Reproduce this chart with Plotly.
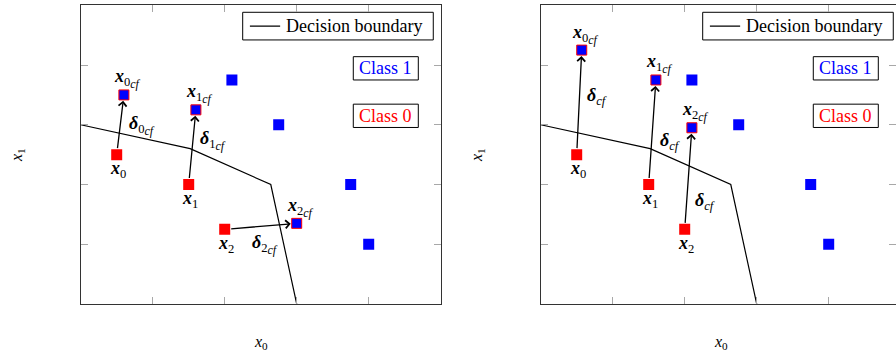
import plotly.graph_objects as go

# data
class1_x = [2.1, 2.75, 3.75, 4.0]
class1_y = [3.75, 3.0, 2.0, 1.0]

orig_x = [0.5, 1.5, 2.0]
orig_y = [2.5, 2.0, 1.25]
orig_labels = ["0", "1", "2"]

cf_left_x = [0.6, 1.6, 3.0]
cf_left_y = [3.5, 3.25, 1.35]
cf_right_x = [0.57, 1.6, 2.1]
cf_right_y = [4.25, 3.75, 2.95]

boundary_x = [0.0, 1.52, 2.64, 3.0]
boundary_y = [3.0, 2.6, 2.0, 0.0]

tick_vals = [1, 2, 3, 4]

W, H = 896, 352
RED = "#ff0000"
BLUE = "#0000ff"
FONT = "Liberation Serif"
CF = "<span style='font-size:12px'><i>cf</i></span>"


def px(x):
    return x / W


def py(y):
    return 1 - y / H


def x_lab(i, cf=False):
    if cf:
        return "<b><i>x</i></b><sub>%s<sub>%s</sub></sub>" % (i, CF)
    return "<b><i>x</i></b><sub>%s</sub>" % i


def d_lab(i=None):
    if i is None:
        return "<b><i>δ</i></b><sub><i>cf</i></sub>"
    return "<b><i>δ</i></b><sub>%s<sub>%s</sub></sub>" % (i, CF)


fig = go.Figure()
annotations = []
shapes = []

panels = [
    ("x", "y", cf_left_x, cf_left_y),
    ("x2", "y2", cf_right_x, cf_right_y),
]

# where the delta labels sit, per panel
delta_pos = {
    "x": [(0.847, 2.98), (1.84, 2.745), (2.56, 0.99)],
    "x2": [(0.78, 3.47), (1.80, 2.72), (2.28, 1.71)],
}

for xr, yr, cfx, cfy in panels:
    fig.add_trace(go.Scatter(
        x=boundary_x, y=boundary_y, mode="lines",
        line=dict(color="black", width=1.2),
        xaxis=xr, yaxis=yr, showlegend=False, hoverinfo="skip"))
    fig.add_trace(go.Scatter(
        x=class1_x, y=class1_y, mode="markers",
        marker=dict(symbol="square", size=11, color=BLUE, line=dict(width=0)),
        xaxis=xr, yaxis=yr, showlegend=False))
    fig.add_trace(go.Scatter(
        x=orig_x, y=orig_y, mode="markers",
        marker=dict(symbol="square", size=11, color=RED, line=dict(width=0)),
        xaxis=xr, yaxis=yr, showlegend=False))
    fig.add_trace(go.Scatter(
        x=cfx, y=cfy, mode="markers",
        marker=dict(symbol="square", size=10, color=BLUE, line=dict(color=RED, width=1)),
        xaxis=xr, yaxis=yr, showlegend=False))

    for i in range(len(orig_x)):
        # arrow x_i -> x_i_cf
        annotations.append(dict(
            x=cfx[i], y=cfy[i], ax=orig_x[i], ay=orig_y[i],
            xref=xr, yref=yr, axref=xr, ayref=yr, text="",
            showarrow=True, arrowhead=4, arrowsize=1.2, arrowwidth=1.3,
            arrowcolor="black", standoff=6, startstandoff=5))
        annotations.append(dict(
            x=orig_x[i], y=orig_y[i], xref=xr, yref=yr, text=x_lab(orig_labels[i]),
            showarrow=False, yshift=-15, xshift=1,
            font=dict(family=FONT, size=18, color="black")))
        annotations.append(dict(
            x=cfx[i], y=cfy[i], xref=xr, yref=yr, text=x_lab(orig_labels[i], cf=True),
            showarrow=False, yshift=16, xshift=4,
            font=dict(family=FONT, size=18, color="black")))
        dx, dy = delta_pos[xr][i]
        annotations.append(dict(
            x=dx, y=dy, xref=xr, yref=yr,
            text=d_lab(orig_labels[i]) if xr == "x" else d_lab(),
            showarrow=False, font=dict(family=FONT, size=18, color="black")))

    # legend-like boxes
    shapes.append(dict(type="rect", xref=xr, yref=yr, x0=2.25, x1=4.897, y0=4.42, y1=4.883,
                       line=dict(color="black", width=1), fillcolor="white", layer="below"))
    shapes.append(dict(type="line", xref=xr, yref=yr, x0=2.35, x1=2.77, y0=4.653, y1=4.653,
                       line=dict(color="black", width=1.2)))
    annotations.append(dict(x=3.796, y=4.653, xref=xr, yref=yr, text="Decision boundary",
                            showarrow=False, font=dict(family=FONT, size=18, color="black")))
    for txt, col, yc in [("Class 1", BLUE, 3.945), ("Class 0", RED, 3.15)]:
        shapes.append(dict(type="rect", xref=xr, yref=yr, x0=3.786, x1=4.689,
                           y0=yc - 0.195, y1=yc + 0.195,
                           line=dict(color="black", width=1), fillcolor="white", layer="below"))
        annotations.append(dict(x=4.2375, y=yc, xref=xr, yref=yr, text=txt, showarrow=False,
                                font=dict(family=FONT, size=18, color=col)))

# axis titles as plain text
for cx in [260.7, 720.7]:
    annotations.append(dict(x=px(cx), y=py(342), xref="paper", yref="paper",
                            xanchor="center", yanchor="middle",
                            text="<i>x</i><sub>0</sub>", showarrow=False,
                            font=dict(family=FONT, size=16, color="black")))
for cx in [17, 477]:
    annotations.append(dict(x=px(cx), y=py(155), xref="paper", yref="paper",
                            xanchor="center", yanchor="middle",
                            text="<i>x</i><sub>1</sub>", showarrow=False, textangle=-90,
                            font=dict(family=FONT, size=16, color="black")))

axis_style = dict(
    showgrid=False, zeroline=False, showline=True, linecolor="#333333", linewidth=1,
    mirror="ticks", ticks="inside", ticklen=7, tickwidth=1, tickcolor="#a8a8a8",
    tickvals=tick_vals, showticklabels=False, fixedrange=True,
)

# right panel runs past the window edge: show only the visible part of its x range
x_span = 5 * (W - 540.7) / 360.0

fig.update_layout(
    width=W, height=H,
    margin=dict(l=0, r=0, t=0, b=0),
    paper_bgcolor="white", plot_bgcolor="white",
    xaxis=dict(domain=[px(80.7), px(440.7)], range=[0, 5], anchor="y", **axis_style),
    yaxis=dict(domain=[py(304), py(5.3)], range=[0, 5], anchor="x", **axis_style),
    xaxis2=dict(domain=[px(540.7), 1.0], range=[0, x_span], anchor="y2", **axis_style),
    yaxis2=dict(domain=[py(304), py(5.3)], range=[0, 5], anchor="x2", **axis_style),
    annotations=annotations,
    shapes=shapes,
    showlegend=False,
)

# drop the default 8px page margin so the figure sits at the window corner
fig.write_html("out.html", config={"displayModeBar": False},
               post_script="document.body.style.margin = '0';")
